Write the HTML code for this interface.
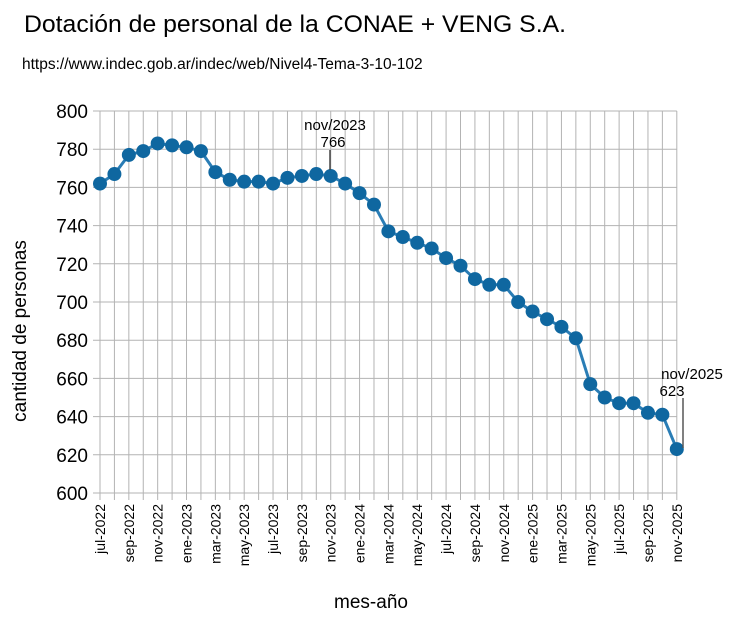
<!DOCTYPE html>
<html><head><meta charset="utf-8"><style>
body{margin:0;background:#fff;}
text{font-family:"Liberation Sans",sans-serif;fill:#000;}
</style></head><body>
<svg width="738" height="619" viewBox="0 0 738 619" xmlns="http://www.w3.org/2000/svg">
<rect width="738" height="619" fill="#fff"/>
<text x="24" y="32" font-size="24" textLength="542" lengthAdjust="spacingAndGlyphs">Dotación de personal de la CONAE + VENG S.A.</text>
<text x="22" y="69" font-size="15.5">https://www.indec.gob.ar/indec/web/Nivel4-Tema-3-10-102</text>
<g id="grid" stroke="#b3b3b3" stroke-width="1"></g>
<g id="ylab" font-size="19" text-anchor="end"></g>
<g id="xlab" font-size="14"></g>
<polyline id="ln" fill="none" stroke="#2a7db5" stroke-width="3"/>
<g id="pts" fill="#0f67a0"></g>
<text x="26" y="331" font-size="19" text-anchor="middle" transform="rotate(-90 26 331)">cantidad de personas</text>
<text x="371" y="608" font-size="19" text-anchor="middle">mes-año</text>
<text x="335" y="130" font-size="15" text-anchor="middle">nov/2023</text>
<text x="333" y="147" font-size="15" text-anchor="middle">766</text>
<line x1="330" y1="150" x2="330" y2="170" stroke="#444" stroke-width="1.5"/>
<text x="692" y="379" font-size="15" text-anchor="middle">nov/2025</text>
<text x="672" y="396" font-size="15" text-anchor="middle">623</text>
<line x1="683" y1="398" x2="683" y2="448" stroke="#555" stroke-width="1.5"/>
</svg>
<script>
const v=[762,767,777,779,783,782,781,779,768,764,763,763,762,765,766,767,766,762,757,751,737,734,731,728,723,719,712,709,709,700,695,691,687,681,657,650,647,647,642,641,623];
const m=["ene","feb","mar","abr","may","jun","jul","ago","sep","oct","nov","dic"];
const ns="http://www.w3.org/2000/svg";
const x0=100,dx=14.42,yt=111,yb=493;
const X=i=>x0+i*dx, Y=val=>yb-(val-600)*(yb-yt)/200;
const g=document.getElementById('grid'),yl=document.getElementById('ylab'),xl=document.getElementById('xlab'),pts=document.getElementById('pts');
function el(p,t,a){const e=document.createElementNS(ns,t);for(const k in a)e.setAttribute(k,a[k]);p.appendChild(e);return e;}
for(let val=600;val<=800;val+=20){el(g,'line',{x1:93,x2:X(40),y1:Y(val),y2:Y(val)});const t=el(yl,'text',{x:88,y:Y(val)+7});t.textContent=val;}
for(let i=0;i<41;i++){el(g,'line',{x1:X(i),x2:X(i),y1:yt,y2:500});
 if(i%2==0){const mi=(6+i)%12,yr=2022+Math.floor((6+i)/12);const t=el(xl,'text',{x:0,y:0,'text-anchor':'end',transform:`translate(${X(i)+5},504) rotate(-90)`});t.textContent=m[mi]+'-'+yr;}}
document.getElementById('ln').setAttribute('points',v.map((a,i)=>X(i)+','+Y(a)).join(' '));
v.forEach((a,i)=>el(pts,'circle',{cx:X(i),cy:Y(a),r:7}));
</script>
</body></html>
